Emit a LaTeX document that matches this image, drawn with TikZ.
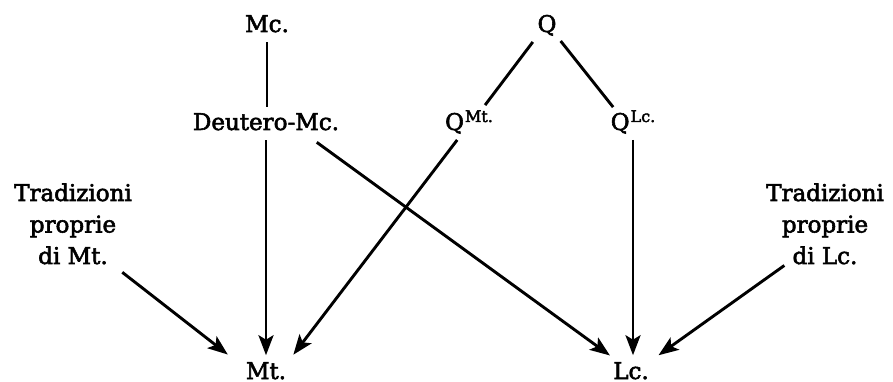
\documentclass[tikz,border=0pt]{standalone}
\usepackage{fontspec}
\setmainfont{DejaVu Serif}[FakeBold=2.5]
\usetikzlibrary{arrows.meta}
\newcommand{\myup}[1]{\kern1pt\raisebox{8pt}{\fontsize{16}{16}\selectfont #1}}
\begin{document}
\begin{tikzpicture}[x=1pt,y=-1pt,
  lbl/.style={inner sep=0pt,outer sep=0pt,font=\fontsize{23}{31.5}\selectfont},
  blk/.style={lbl,align=center},
  link/.style={line width=2.9pt},
  arr/.style={link,-{Stealth[length=20pt,width=15pt,inset=4.5pt]}}]
\useasboundingbox (0,0) rectangle (893,382);
\node[lbl,anchor=base] (mc) at (267,32) {Mc.};
\node[lbl,anchor=base] (q) at (547,32) {Q};
\node[lbl,anchor=base] (deut) at (266,130) {Deutero-Mc.};
\node[lbl,anchor=base] (qmt) at (469,130) {Q\myup{Mt.}};
\node[lbl,anchor=base] (qlc) at (633,130) {Q\myup{Lc.}};
\node[lbl,anchor=base] (mt) at (266,379) {Mt.};
\node[lbl,anchor=base] (lc) at (631,379) {Lc.};
\node[blk,anchor=north] (tmt) at (73,183.5) {Tradizioni\\proprie\\di Mt.};
\node[blk,anchor=north] (tlc) at (825,183.5) {Tradizioni\\proprie\\di Lc.};
\draw[link,shorten <=10pt,shorten >=6pt] (mc.south) -- (mc.south |- deut.north);
\draw[link,shorten <=7.9pt,shorten >=6.6pt] (q.south west) -- (qmt.44.3);
\draw[link,shorten <=6.8pt,shorten >=4.1pt] (q.south east) -- (qlc.146.2);
\draw[arr,shorten <=10pt,shorten >=7pt] (deut.south) -- (deut.south |- mt.north);
\draw[arr,shorten <=20.4pt,shorten >=11.5pt] (deut.-14) -- (lc.144.1);
\draw[arr,shorten <=7.9pt,shorten >=12pt] (qmt.-121.6) -- (mt.18.4);
\draw[arr,shorten <=6.3pt,shorten >=7pt] (qlc.south) -- (qlc.south |- lc.north);
\draw[arr,shorten <=13pt,shorten >=23pt] (tmt.-46) -- (mt.174.3);
\draw[arr,shorten <=2pt,shorten >=12pt] (tlc.-134.5) -- (lc.north east);
\end{tikzpicture}
\end{document}
